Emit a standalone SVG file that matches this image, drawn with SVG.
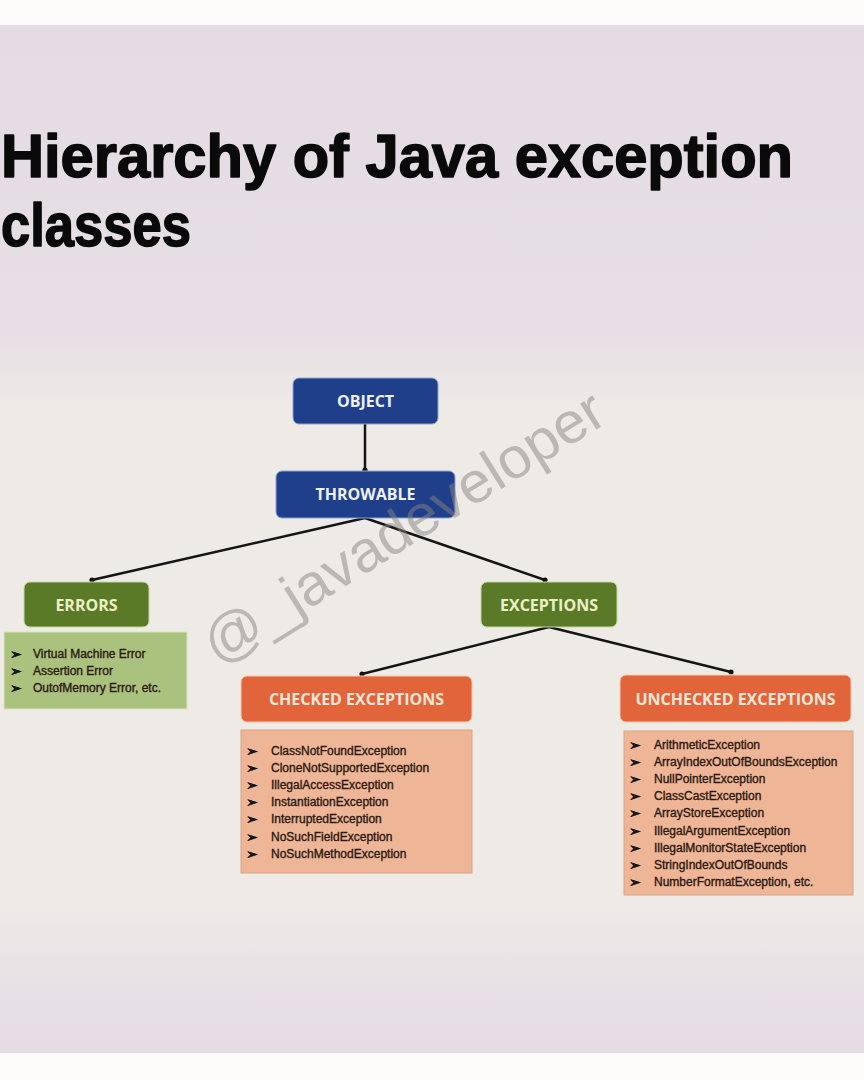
<svg xmlns="http://www.w3.org/2000/svg" width="864" height="1080" viewBox="0 0 864 1080">
<defs>
<linearGradient id="bg" x1="0" y1="0" x2="0" y2="1">
<stop offset="0" stop-color="#e4dbe4"/>
<stop offset="0.3" stop-color="#e7dfe5"/>
<stop offset="0.38" stop-color="#eeebe7"/>
<stop offset="0.85" stop-color="#eeebe7"/>
<stop offset="0.93" stop-color="#e8e1e6"/>
<stop offset="1" stop-color="#e5dce5"/>
</linearGradient>
<marker id="dot" viewBox="0 0 6 6" refX="3" refY="3" markerWidth="6" markerHeight="6" markerUnits="userSpaceOnUse">
<circle cx="3" cy="3" r="2.6" fill="#111"/>
</marker>
<style>
.title{font-family:"Liberation Sans",Arial,sans-serif;font-weight:bold;font-size:61px;fill:#0a0a0a;stroke:#0a0a0a;stroke-width:1.6;stroke-linejoin:round}
.lbl{font-family:"Open Sans","Liberation Sans",sans-serif;font-weight:bold;font-size:16px;text-anchor:middle}
.blue rect{fill:#1f3f8b;stroke:#8fa3d0;stroke-width:1}
.blue text{fill:#eef2fa}
.green rect{fill:#5b7a28;stroke:#c8d6a0;stroke-width:1}
.green text{fill:#eaf2c4}
.orange rect{fill:#e2643a;stroke:#f6c8b0;stroke-width:1}
.orange text{fill:#fbe7d8}
.glist rect{fill:#aac27e;stroke:#d6e2be;stroke-width:1}
.olist rect{fill:#efb597;stroke:#d9a285;stroke-width:1}
.item{font-family:"Liberation Sans",Arial,sans-serif;font-size:12px;fill:#2a1810;stroke:#2a1810;stroke-width:0.35}
.bul{font-family:"DejaVu Sans",sans-serif;font-size:14px;font-weight:bold;fill:#111;stroke:#111;stroke-width:0.6}
.conn line{stroke:#151515;stroke-width:2.5;marker-end:url(#dot)}
.wm{font-family:"Liberation Sans",Arial,sans-serif;font-size:58px;fill:#8a8482;opacity:0.5}
</style>
</defs>
<rect x="0" y="0" width="864" height="1080" fill="#fdfcfb"/>
<rect x="0" y="25" width="864" height="1028" fill="url(#bg)"/>

<text class="title" x="1" y="177" textLength="792" lengthAdjust="spacingAndGlyphs">Hierarchy of Java exception</text>
<text class="title" x="1" y="246" textLength="190" lengthAdjust="spacingAndGlyphs">classes</text>

<g id="connectors" class="conn">
<line x1="365" y1="424" x2="365" y2="470"/>
<line x1="365" y1="518" x2="92" y2="580"/>
<line x1="365" y1="518" x2="545" y2="580"/>
<line x1="549" y1="627" x2="362" y2="674"/>
<line x1="549" y1="627" x2="731" y2="672"/>
</g>

<g id="object" class="blue">
<rect x="293" y="378" width="145" height="46" rx="6"/>
<text class="lbl" x="365.5" y="407">OBJECT</text>
</g>
<g id="throwable" class="blue">
<rect x="276" y="471" width="179" height="47" rx="6"/>
<text class="lbl" x="365.5" y="500">THROWABLE</text>
</g>
<g id="errors" class="green">
<rect x="24" y="582" width="125" height="45" rx="6"/>
<text class="lbl" x="86.5" y="611">ERRORS</text>
</g>
<g id="errors-list" class="glist">
<rect x="4" y="632" width="183" height="77"/>
<text class="bul" x="10" y="659">➢</text>
<text class="bul" x="10" y="676">➢</text>
<text class="bul" x="10" y="693">➢</text>
<text class="item" x="33" y="658" font-size="11.5">Virtual Machine Error</text>
<text class="item" x="33" y="675" font-size="11.5">Assertion Error</text>
<text class="item" x="33" y="692" font-size="11.5">OutofMemory Error, etc.</text>
</g>
<g id="exceptions" class="green">
<rect x="481" y="582" width="136" height="45" rx="6"/>
<text class="lbl" x="549" y="611">EXCEPTIONS</text>
</g>
<g id="checked" class="orange">
<rect x="241" y="676" width="231" height="46" rx="6"/>
<text class="lbl" x="356.5" y="705">CHECKED EXCEPTIONS</text>
</g>
<g id="checked-list" class="olist">
<rect x="241" y="730" width="231" height="143"/>
<text class="bul" x="246" y="756">➢</text>
<text class="bul" x="246" y="773">➢</text>
<text class="bul" x="246" y="790">➢</text>
<text class="bul" x="246" y="807">➢</text>
<text class="bul" x="246" y="824">➢</text>
<text class="bul" x="246" y="842">➢</text>
<text class="bul" x="246" y="859">➢</text>
<text class="item" x="271" y="755">ClassNotFoundException</text>
<text class="item" x="271" y="772">CloneNotSupportedException</text>
<text class="item" x="271" y="789">IllegalAccessException</text>
<text class="item" x="271" y="806">InstantiationException</text>
<text class="item" x="271" y="823">InterruptedException</text>
<text class="item" x="271" y="841">NoSuchFieldException</text>
<text class="item" x="271" y="858">NoSuchMethodException</text>
</g>
<g id="unchecked" class="orange">
<rect x="620" y="675" width="231" height="47" rx="6"/>
<text class="lbl" x="735.5" y="705">UNCHECKED EXCEPTIONS</text>
</g>
<g id="unchecked-list" class="olist">
<rect x="624" y="731" width="229" height="164"/>
<text class="bul" x="629" y="750">➢</text>
<text class="bul" x="629" y="767">➢</text>
<text class="bul" x="629" y="784">➢</text>
<text class="bul" x="629" y="801">➢</text>
<text class="bul" x="629" y="818">➢</text>
<text class="bul" x="629" y="836">➢</text>
<text class="bul" x="629" y="853">➢</text>
<text class="bul" x="629" y="870">➢</text>
<text class="bul" x="629" y="887">➢</text>
<text class="item" x="654" y="749">ArithmeticException</text>
<text class="item" x="654" y="766">ArrayIndexOutOfBoundsException</text>
<text class="item" x="654" y="783">NullPointerException</text>
<text class="item" x="654" y="800">ClassCastException</text>
<text class="item" x="654" y="817">ArrayStoreException</text>
<text class="item" x="654" y="835">IllegalArgumentException</text>
<text class="item" x="654" y="852">IllegalMonitorStateException</text>
<text class="item" x="654" y="869">StringIndexOutOfBounds</text>
<text class="item" x="654" y="886">NumberFormatException, etc.</text>
</g>

<text class="wm" x="218" y="666" transform="rotate(-32 218 666)" textLength="462" lengthAdjust="spacingAndGlyphs">@_javadeveloper</text>
</svg>
